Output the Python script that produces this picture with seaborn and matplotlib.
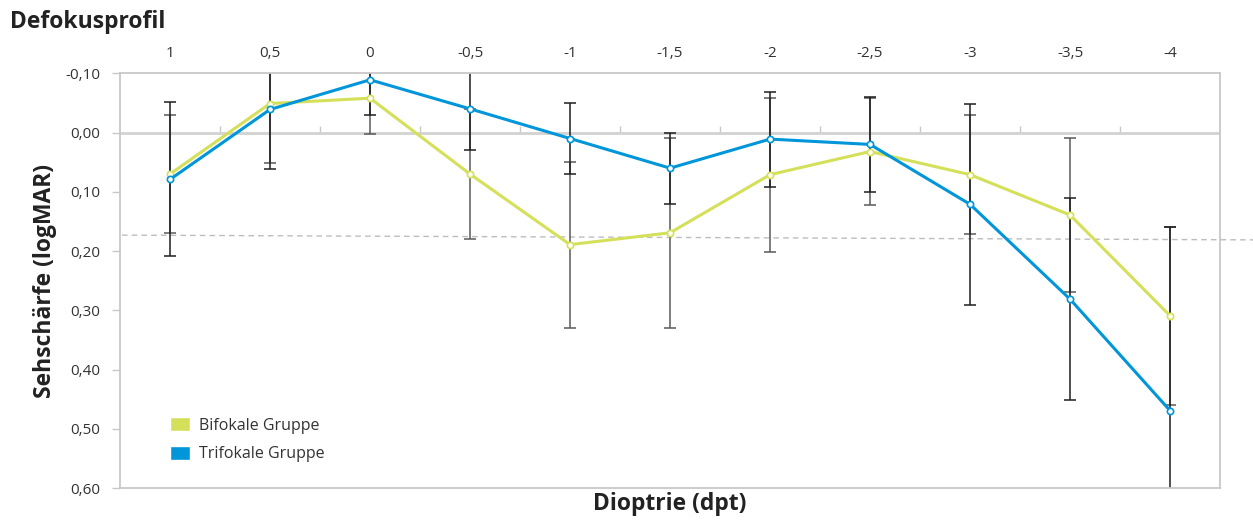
import matplotlib
matplotlib.use("Agg")
import numpy as np
import pandas as pd
import matplotlib.pyplot as plt
import seaborn as sns
from matplotlib.patches import Patch
from matplotlib.ticker import FuncFormatter

# Defokusprofil: Sehschaerfe je Dioptrie, zwei Gruppen
dpt = [1, 0.5, 0, -0.5, -1, -1.5, -2, -2.5, -3, -3.5, -4]
bifokal = [0.070, -0.049, -0.058, 0.070, 0.189, 0.169, 0.071, 0.032, 0.071, 0.139, 0.309]
bifokal_err = [0.10, 0.10, 0.06, 0.11, 0.14, 0.16, 0.13, 0.09, 0.10, 0.13, 0.15]
trifokal = [0.079, -0.039, -0.089, -0.040, 0.010, 0.060, 0.011, 0.020, 0.121, 0.281, 0.469]
trifokal_err = [0.13, 0.10, 0.06, 0.07, 0.06, 0.06, 0.08, 0.08, 0.17, 0.17, 0.31]
groups = ["Bifokale Gruppe", "Trifokale Gruppe"]
y_ticks = [-0.1, 0.0, 0.1, 0.2, 0.3, 0.4, 0.5, 0.6]
# gestrichelte Referenzlinie (leicht schraeg)
ref_x = [1.24, -4.42]
ref_y = [0.173, 0.181]

GREEN = "#d5e05a"
BLUE = "#0096d9"
GRID = "#c8c8c8"

df = pd.concat([
    pd.DataFrame({"dpt": dpt, "logMAR": bifokal, "err": bifokal_err, "Gruppe": groups[0]}),
    pd.DataFrame({"dpt": dpt, "logMAR": trifokal, "err": trifokal_err, "Gruppe": groups[1]}),
])

sns.set_style("white")
plt.rcParams["font.family"] = ["Open Sans", "DejaVu Sans"]

fig = plt.figure(figsize=(12.53, 5.22), dpi=100)
ax = fig.add_axes([0.0958, 0.0646, 0.8779, 0.795])

# error bars first (below lines)
bar_colors = {groups[0]: "#5a5a5a", groups[1]: "#1e1e1e"}
for g, sub in df.groupby("Gruppe"):
    ax.errorbar(sub["dpt"], sub["logMAR"], yerr=sub["err"], fmt="none",
                ecolor=bar_colors[g], elinewidth=1.1, capsize=4, capthick=1.1, zorder=2)

n_before = len(ax.lines)
sns.lineplot(data=df, x="dpt", y="logMAR", hue="Gruppe", palette=[GREEN, BLUE],
             marker="o", markersize=4.5, linewidth=2.2, legend=False, ax=ax, zorder=3)
for line in ax.lines[n_before:]:
    c = line.get_color()
    line.set_markerfacecolor("white")
    line.set_markeredgecolor(c)
    line.set_markeredgewidth(1.2)

ax.plot(ref_x, ref_y, color="#bdbdbd", linestyle=(0, (4, 3)), linewidth=1, clip_on=False, zorder=1)
ax.axhline(0, color="#d2d2d2", linewidth=2, zorder=0.5)

ax.set_xlim(1.25, -4.25)
ax.set_ylim(0.6, -0.1)

# x labels on top
ax.xaxis.tick_top()
ax.set_xticks(dpt)
ax.set_xticklabels([f"{v:g}".replace(".", ",") for v in dpt])
ax.tick_params(axis="x", length=0, pad=9, labelsize=11, labelcolor="#333333")
ax.set_yticks(y_ticks)
ax.yaxis.set_major_formatter(FuncFormatter(lambda v, p: f"{v:.2f}".replace(".", ",")))
ax.tick_params(axis="y", left=True, length=6, width=1, color=GRID, direction="out",
               pad=8, labelsize=11, labelcolor="#333333")

# small ticks on the zero line between categories
bounds = [(a + b) / 2 for a, b in zip(dpt[:-1], dpt[1:])]
sec = ax.secondary_xaxis(6 / 7)
sec.set_xticks(bounds)
sec.tick_params(axis="x", length=5, width=1, color=GRID, direction="out", labeltop=False, labelbottom=False)
for s in sec.spines.values():
    s.set_visible(False)

for s in ax.spines.values():
    s.set_color(GRID)
    s.set_linewidth(1.3)

ax.set_xlabel("Dioptrie (dpt)", fontsize=16.5, fontweight="bold", color="#222222", labelpad=3)
ax.xaxis.set_label_position("bottom")
ax.set_ylabel("Sehschärfe (logMAR)", fontsize=16.5, fontweight="bold", color="#222222", labelpad=6)

handles = [Patch(facecolor=GREEN, label=groups[0]), Patch(facecolor=BLUE, label=groups[1])]
ax.legend(handles=handles, loc="lower left", bbox_to_anchor=(0.032, 0.028), frameon=False,
          fontsize=11.5, handlelength=1.25, handleheight=1.0, handletextpad=0.6,
          labelspacing=0.75, labelcolor="#333333")

fig.text(0.008, 0.958, "Defokusprofil", fontsize=16.5, fontweight="bold",
         color="#222222", va="center")

fig.savefig("out.png", dpi=100)
